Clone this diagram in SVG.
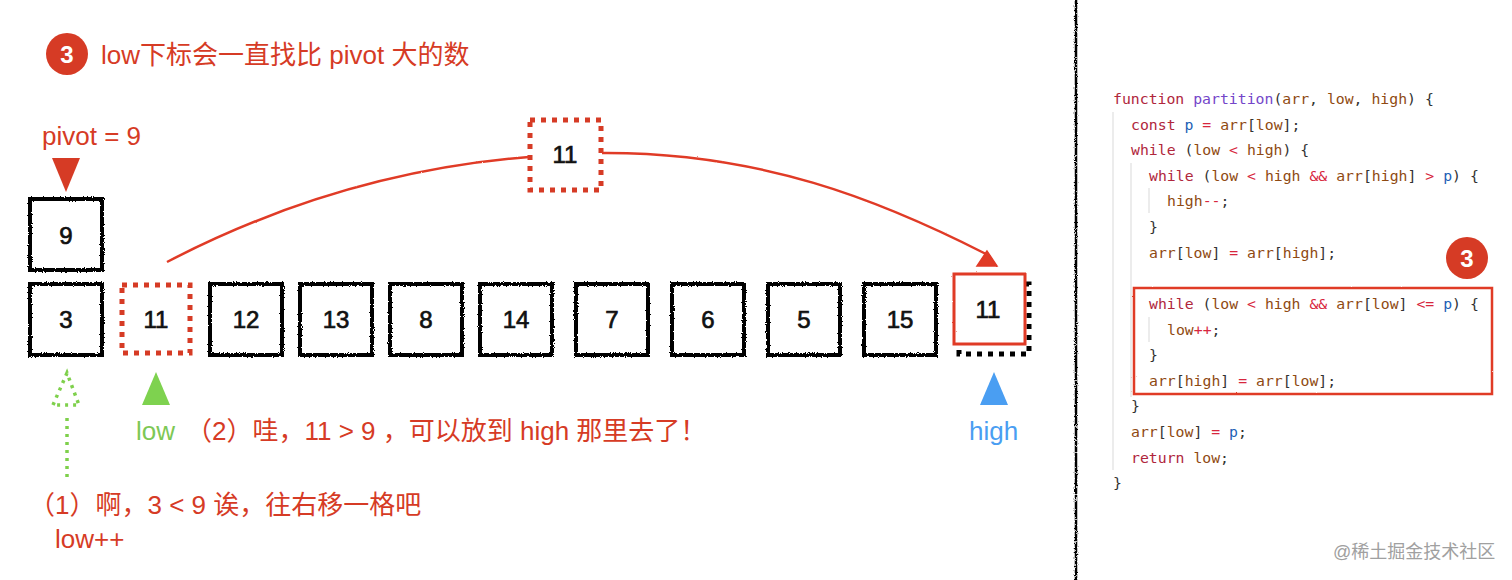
<svg xmlns="http://www.w3.org/2000/svg" width="1512" height="580" viewBox="0 0 1512 580">
<defs>
<filter id="rough" filterUnits="userSpaceOnUse" x="0" y="0" width="1512" height="580">
<feTurbulence type="fractalNoise" baseFrequency="0.9" numOctaves="2" seed="4" result="n"/>
<feDisplacementMap in="SourceGraphic" in2="n" scale="3" xChannelSelector="R" yChannelSelector="G"/>
</filter>
<filter id="rough2" filterUnits="userSpaceOnUse" x="0" y="0" width="1512" height="580">
<feTurbulence type="fractalNoise" baseFrequency="1.2" numOctaves="1" seed="7" result="n"/>
<feDisplacementMap in="SourceGraphic" in2="n" scale="1.8" xChannelSelector="R" yChannelSelector="G"/>
</filter>
</defs>
<style>
.t{font-family:"Liberation Sans","Noto Sans CJK SC",Arial,sans-serif;font-size:26px;}
.red{fill:#d63b25;}
.num{font-family:"Liberation Sans",Arial,sans-serif;font-size:24px;fill:#111;stroke:#111;stroke-width:0.7;text-anchor:middle;}
.box{fill:#fff;stroke:#000;stroke-width:4;filter:url(#rough);}
.dashr{fill:#fff;stroke:#d63b25;stroke-width:5;stroke-dasharray:5 6;}
.dashk{fill:none;stroke:#000;stroke-width:5;stroke-dasharray:5 6;}
.code{font-family:"DejaVu Sans Mono","Liberation Mono",monospace;font-size:14.8px;fill:#333;white-space:pre;}
.k{fill:#b0263c;}
.f{fill:#7446c9;}
.v{fill:#8f4a12;}
.p{fill:#1d5fb5;}
.o{fill:#d7263d;}
.guide{stroke:#e0e0e0;stroke-width:1.2;}
</style>
<rect width="1512" height="580" fill="#fff"/>

<g id="title">
<circle cx="67" cy="54" r="21" fill="#d63b25"/>
<text x="67" y="63" font-family="Liberation Sans,Arial,sans-serif" font-size="24" font-weight="bold" fill="#fff" text-anchor="middle">3</text>
<text class="t red" x="101" y="64">low下标会一直找比 pivot 大的数</text>
</g>

<g id="pivot-label">
<text class="t red" x="42" y="145">pivot = 9</text>
<polygon points="52,158 80,158 66,192" fill="#d63b25"/>
</g>

<g id="node-pivot9"><rect class="box" x="30" y="199" width="72" height="71"/><text class="num" x="66" y="244">9</text></g>

<g id="node-3"><rect class="box" x="30" y="284" width="72" height="71"/><text class="num" x="66" y="328">3</text></g>
<g id="node-11a"><rect class="dashr" x="122" y="285" width="68" height="68"/><text class="num" x="156" y="328">11</text></g>
<g id="node-12"><rect class="box" x="210" y="284" width="72" height="71"/><text class="num" x="246" y="328">12</text></g>
<g id="node-13"><rect class="box" x="300" y="284" width="72" height="71"/><text class="num" x="336" y="328">13</text></g>
<g id="node-8"><rect class="box" x="390" y="284" width="72" height="71"/><text class="num" x="426" y="328">8</text></g>
<g id="node-14"><rect class="box" x="480" y="284" width="72" height="71"/><text class="num" x="516" y="328">14</text></g>
<g id="node-7"><rect class="box" x="576" y="284" width="72" height="71"/><text class="num" x="612" y="328">7</text></g>
<g id="node-6"><rect class="box" x="672" y="284" width="72" height="71"/><text class="num" x="708" y="328">6</text></g>
<g id="node-5"><rect class="box" x="768" y="284" width="72" height="71"/><text class="num" x="804" y="328">5</text></g>
<g id="node-15"><rect class="box" x="864" y="284" width="72" height="71"/><text class="num" x="900" y="328">15</text></g>
<g id="node-11b">
<rect class="dashk" x="959" y="284" width="70" height="70"/>
<rect x="954" y="274" width="71" height="70" fill="#fff" stroke="#e03a26" stroke-width="3" filter="url(#rough2)"/>
<text class="num" x="988" y="318">11</text>
</g>

<g id="node-11-moving"><rect class="dashr" x="530" y="120" width="71" height="70"/><text class="num" x="565" y="163">11</text></g>

<g id="connectors" fill="none" stroke="#e03a26" stroke-width="2.5" filter="url(#rough2)">
<path d="M167,262 Q340,172 529,157"/>
<path d="M602,153 C760,152 880,200 986,254"/>
<polygon points="987,251 977,266 997,266" fill="#e03a26" stroke-width="1.5"/>
</g>

<g id="low-pointer">
<g fill="none" stroke="#7ed04b" stroke-width="3.5" stroke-dasharray="3 5">
<path d="M67,477 V413"/>
<path d="M53,405 L67,373 L79,405 Z"/>
</g>
<polygon points="142,405 170,405 156,372" fill="#7ed24f"/>
<text class="t" x="136" y="440" fill="#7dc855">low</text>
</g>

<g id="high-pointer">
<polygon points="980,405 1008,405 994,372" fill="#4a9ef2"/>
<text class="t" x="969" y="440" fill="#4a9ef2">high</text>
</g>

<g id="notes">
<text class="t red" x="186" y="440">（2）哇，11 &gt; 9 ，可以放到 high 那里去了！</text>
<text class="t red" x="29" y="514">（1）啊，3 &lt; 9 诶，往右移一格吧</text>
<text class="t red" x="55" y="548">low++</text>
</g>

<g id="divider"><line x1="1076" y1="0" x2="1076" y2="580" stroke="#000" stroke-width="2.5" filter="url(#rough)"/></g>

<g id="code">
<line class="guide" x1="1113" y1="112" x2="1113" y2="470"/>
<line class="guide" x1="1131" y1="163" x2="1131" y2="397"/>
<line class="guide" x1="1149" y1="188" x2="1149" y2="213"/>
<line class="guide" x1="1149" y1="317" x2="1149" y2="342"/>
<text class="code" x="1113" y="104"><tspan class="k">function</tspan> <tspan class="f">partition</tspan>(<tspan class="v">arr</tspan>, <tspan class="v">low</tspan>, <tspan class="v">high</tspan>) {</text>
<text class="code" x="1131" y="130"><tspan class="k">const</tspan> <tspan class="p">p</tspan> <tspan class="o">=</tspan> <tspan class="v">arr</tspan>[<tspan class="v">low</tspan>];</text>
<text class="code" x="1131" y="155"><tspan class="k">while</tspan> (<tspan class="v">low</tspan> <tspan class="o">&lt;</tspan> <tspan class="v">high</tspan>) {</text>
<text class="code" x="1149" y="181"><tspan class="k">while</tspan> (<tspan class="v">low</tspan> <tspan class="o">&lt;</tspan> <tspan class="v">high</tspan> <tspan class="o">&amp;&amp;</tspan> <tspan class="v">arr</tspan>[<tspan class="v">high</tspan>] <tspan class="o">&gt;</tspan> <tspan class="p">p</tspan>) {</text>
<text class="code" x="1167" y="206"><tspan class="v">high</tspan><tspan class="o">--</tspan>;</text>
<text class="code" x="1149" y="232">}</text>
<text class="code" x="1149" y="258"><tspan class="v">arr</tspan>[<tspan class="v">low</tspan>] <tspan class="o">=</tspan> <tspan class="v">arr</tspan>[<tspan class="v">high</tspan>];</text>
<text class="code" x="1149" y="309"><tspan class="k">while</tspan> (<tspan class="v">low</tspan> <tspan class="o">&lt;</tspan> <tspan class="v">high</tspan> <tspan class="o">&amp;&amp;</tspan> <tspan class="v">arr</tspan>[<tspan class="v">low</tspan>] <tspan class="o">&lt;=</tspan> <tspan class="p">p</tspan>) {</text>
<text class="code" x="1167" y="335"><tspan class="v">low</tspan><tspan class="o">++</tspan>;</text>
<text class="code" x="1149" y="360">}</text>
<text class="code" x="1149" y="386"><tspan class="v">arr</tspan>[<tspan class="v">high</tspan>] <tspan class="o">=</tspan> <tspan class="v">arr</tspan>[<tspan class="v">low</tspan>];</text>
<text class="code" x="1131" y="411">}</text>
<text class="code" x="1131" y="437"><tspan class="v">arr</tspan>[<tspan class="v">low</tspan>] <tspan class="o">=</tspan> <tspan class="p">p</tspan>;</text>
<text class="code" x="1131" y="463"><tspan class="k">return</tspan> <tspan class="v">low</tspan>;</text>
<text class="code" x="1113" y="488">}</text>
</g>

<g id="highlight">
<rect x="1134" y="288" width="358" height="106" fill="none" stroke="#e03a26" stroke-width="2.5" filter="url(#rough2)"/>
<circle cx="1467" cy="258" r="21" fill="#d63b25"/>
<text x="1467" y="267" font-family="Liberation Sans,Arial,sans-serif" font-size="24" font-weight="bold" fill="#fff" text-anchor="middle">3</text>
</g>

<g id="watermark">
<text x="1333" y="558" font-family="Liberation Sans,'Noto Sans CJK SC',sans-serif" font-size="18" fill="#a0a0a0">@稀土掘金技术社区</text>
</g>
</svg>
